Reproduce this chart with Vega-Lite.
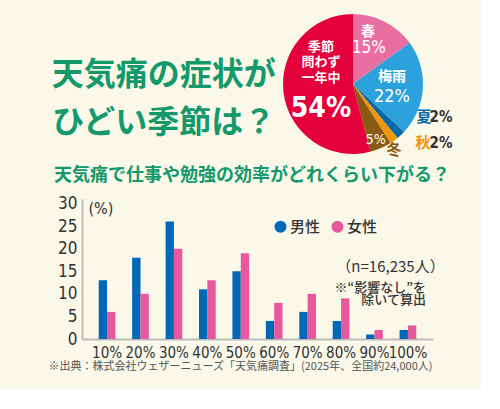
{
  "$schema": "https://vega.github.io/schema/vega-lite/v6.json",
  "background": "#FAF8E9",
  "padding": {"left": 47, "top": 13, "right": 28, "bottom": 17},
  "config": {"view": {"stroke": null}, "font": "Noto Sans CJK JP", "axisY": {"labelOverlap": false}, "axisX": {"labelOverlap": false}},
  "resolve": {"scale": {"color": "independent"}, "legend": {"color": "independent"}},
  "datasets": {
    "pie": [
      {"season": "春", "l1": "春", "l2": "", "l3": "", "pct": 15, "label": "15%", "order": 1},
      {"season": "梅雨", "l1": "梅雨", "l2": "", "l3": "", "pct": 22, "label": "22%", "order": 2},
      {"season": "夏", "l1": "夏", "l2": "", "l3": "", "pct": 2, "label": "2%", "order": 3},
      {"season": "秋", "l1": "秋", "l2": "", "l3": "", "pct": 2, "label": "2%", "order": 4},
      {"season": "冬", "l1": "冬", "l2": "", "l3": "", "pct": 5, "label": "5%", "order": 5},
      {"season": "季節問わず一年中", "l1": "季節", "l2": "問わず", "l3": "一年中", "pct": 54, "label": "54%", "order": 6}
    ],
    "bars": [
      {"rate": "10%", "gender": "男性", "value": 13}, {"rate": "10%", "gender": "女性", "value": 6},
      {"rate": "20%", "gender": "男性", "value": 18}, {"rate": "20%", "gender": "女性", "value": 10},
      {"rate": "30%", "gender": "男性", "value": 26}, {"rate": "30%", "gender": "女性", "value": 20},
      {"rate": "40%", "gender": "男性", "value": 11}, {"rate": "40%", "gender": "女性", "value": 13},
      {"rate": "50%", "gender": "男性", "value": 15}, {"rate": "50%", "gender": "女性", "value": 19},
      {"rate": "60%", "gender": "男性", "value": 4}, {"rate": "60%", "gender": "女性", "value": 8},
      {"rate": "70%", "gender": "男性", "value": 6}, {"rate": "70%", "gender": "女性", "value": 10},
      {"rate": "80%", "gender": "男性", "value": 4}, {"rate": "80%", "gender": "女性", "value": 9},
      {"rate": "90%", "gender": "男性", "value": 1}, {"rate": "90%", "gender": "女性", "value": 2},
      {"rate": "100%", "gender": "男性", "value": 2}, {"rate": "100%", "gender": "女性", "value": 3}
    ]
  },
  "spacing": 7,
  "vconcat": [
    {
      "spacing": 0,
      "hconcat": [
        {
          "width": 200,
          "height": 142,
          "data": {"values": [{"line": 1, "title": "天気痛の症状が"}, {"line": 2, "title": "ひどい季節は？"}]},
          "mark": {"type": "text", "font": "Noto Sans CJK JP", "fontWeight": "bold", "fontSize": 32, "color": "#13996B", "align": "center", "baseline": "middle", "dx": -18.2, "dy": 15},
          "encoding": {
            "y": {"field": "line", "type": "ordinal", "axis": null, "scale": {"type": "point", "padding": 1.9}},
            "text": {"field": "title"}
          }
        },
        {
          "width": 142,
          "height": 142,
          "data": {"name": "pie"},
          "encoding": {
            "theta": {"field": "pct", "type": "quantitative", "stack": true},
            "order": {"field": "order", "type": "quantitative"},
            "detail": {"field": "season", "type": "nominal"}
          },
          "layer": [
            {
              "mark": {"type": "arc", "outerRadius": 70},
              "encoding": {
                "color": {"field": "season", "type": "nominal", "legend": null,
                  "scale": {"domain": ["春", "梅雨", "夏", "秋", "冬", "季節問わず一年中"],
                            "range": ["#E96FA3", "#2CA2DC", "#0A68A8", "#F0960C", "#8B5A12", "#E4003B"]}}
              }
            },
            {
              "mark": {"type": "text", "radius": {"expr": "datum.season === '春' ? 46 : 0"}, "dx": -6, "dy": -11, "fontSize": 14, "fontWeight": "bold", "color": "white"},
              "encoding": {"text": {"condition": {"test": "datum.season === '春'", "field": "l1"}, "value": ""}}
            },
            {
              "mark": {"type": "text", "radius": {"expr": "datum.season === '春' ? 46 : 0"}, "dx": -5, "dy": 5, "fontSize": 17, "font": "'Liberation Sans Narrow', 'DejaVu Sans Condensed', Roboto", "color": "white"},
              "encoding": {"text": {"condition": {"test": "datum.season === '春'", "field": "label"}, "value": ""}}
            },
            {
              "mark": {"type": "text", "radius": {"expr": "datum.season === '梅雨' ? 40 : 0"}, "dx": -1, "dy": -10, "fontSize": 14, "fontWeight": "bold", "color": "white"},
              "encoding": {"text": {"condition": {"test": "datum.season === '梅雨'", "field": "l1"}, "value": ""}}
            },
            {
              "mark": {"type": "text", "radius": {"expr": "datum.season === '梅雨' ? 40 : 0"}, "dx": -1, "dy": 10, "fontSize": 18, "font": "'Liberation Sans Narrow', 'DejaVu Sans Condensed', Roboto", "color": "white"},
              "encoding": {"text": {"condition": {"test": "datum.season === '梅雨'", "field": "label"}, "value": ""}}
            },
            {
              "mark": {"type": "text", "radius": {"expr": "datum.season === '夏' ? 78 : 0"}, "dx": 17.6, "dy": -23.9, "fontSize": 15, "fontWeight": "bold", "color": "#0A68A8"},
              "encoding": {"text": {"condition": {"test": "datum.season === '夏'", "field": "l1"}, "value": ""}}
            },
            {
              "mark": {"type": "text", "radius": {"expr": "datum.season === '夏' ? 78 : 0"}, "dx": 34.6, "dy": -23.9, "fontSize": 15, "font": "'Liberation Sans Narrow', 'DejaVu Sans Condensed', Roboto", "fontWeight": "bold", "color": "#333333"},
              "encoding": {"text": {"condition": {"test": "datum.season === '夏'", "field": "label"}, "value": ""}}
            },
            {
              "mark": {"type": "text", "radius": {"expr": "datum.season === '秋' ? 78 : 0"}, "dx": 24.2, "dy": -4.1, "fontSize": 15, "fontWeight": "bold", "color": "#EE9008"},
              "encoding": {"text": {"condition": {"test": "datum.season === '秋'", "field": "l1"}, "value": ""}}
            },
            {
              "mark": {"type": "text", "radius": {"expr": "datum.season === '秋' ? 78 : 0"}, "dx": 42.2, "dy": -4.1, "fontSize": 15, "font": "'Liberation Sans Narrow', 'DejaVu Sans Condensed', Roboto", "fontWeight": "bold", "color": "#333333"},
              "encoding": {"text": {"condition": {"test": "datum.season === '秋'", "field": "label"}, "value": ""}}
            },
            {
              "mark": {"type": "text", "radius": {"expr": "datum.season === '冬' ? 80 : 0"}, "dx": 9.2, "dy": -7.4, "fontSize": 15, "fontWeight": "bold", "color": "#8B5A12"},
              "encoding": {"text": {"condition": {"test": "datum.season === '冬'", "field": "l1"}, "value": ""}}
            },
            {
              "mark": {"type": "text", "radius": {"expr": "datum.season === '冬' ? 60 : 0"}, "dx": -1, "dy": 1, "fontSize": 14, "font": "'Liberation Sans Narrow', 'DejaVu Sans Condensed', Roboto", "color": "white"},
              "encoding": {"text": {"condition": {"test": "datum.season === '冬'", "field": "label"}, "value": ""}}
            },
            {
              "mark": {"type": "text", "radius": {"expr": "datum.season === '季節問わず一年中' ? 35 : 0"}, "dx": 2.7, "dy": -41.4, "fontSize": 13, "fontWeight": "bold", "color": "white"},
              "encoding": {"text": {"condition": {"test": "datum.season === '季節問わず一年中'", "field": "l1"}, "value": ""}}
            },
            {
              "mark": {"type": "text", "radius": {"expr": "datum.season === '季節問わず一年中' ? 35 : 0"}, "dx": 2.7, "dy": -25.9, "fontSize": 13, "fontWeight": "bold", "color": "white"},
              "encoding": {"text": {"condition": {"test": "datum.season === '季節問わず一年中'", "field": "l2"}, "value": ""}}
            },
            {
              "mark": {"type": "text", "radius": {"expr": "datum.season === '季節問わず一年中' ? 35 : 0"}, "dx": 2.7, "dy": -10.4, "fontSize": 13, "fontWeight": "bold", "color": "white"},
              "encoding": {"text": {"condition": {"test": "datum.season === '季節問わず一年中'", "field": "l3"}, "value": ""}}
            },
            {
              "mark": {"type": "text", "radius": {"expr": "datum.season === '季節問わず一年中' ? 35 : 0"}, "dx": 2.7, "dy": 21, "fontSize": 28, "font": "'Liberation Sans Narrow', 'DejaVu Sans Condensed', Roboto", "fontWeight": "bold", "color": "white"},
              "encoding": {"text": {"condition": {"test": "datum.season === '季節問わず一年中'", "field": "label"}, "value": ""}}
            }
          ]
        }
      ]
    },
    {
      "width": 351,
      "height": 140,
      "title": {"text": "天気痛で仕事や勉強の効率がどれくらい下がる？", "anchor": "start", "frame": "group", "dx": -28, "fontSize": 18, "fontWeight": "bold", "color": "#13996B", "font": "Noto Sans CJK JP", "offset": 10},
      "layer": [
        {
          "data": {"name": "bars"},
          "mark": {"type": "bar"},
          "encoding": {
            "x": {"field": "rate", "type": "nominal", "sort": null,
              "scale": {"paddingInner": 0.5, "paddingOuter": 0.5},
              "axis": {"labelAngle": 0, "ticks": false, "labelPadding": 6, "labelFontSize": 15, "labelFont": "'Liberation Sans Narrow', 'DejaVu Sans Condensed', Roboto", "labelColor": "#333333", "labelOverlap": false,
                       "domainColor": "#BBBBBB", "domainWidth": 2,
                       "title": "※出典：株式会社ウェザーニューズ「天気痛調査」(2025年、全国約24,000人)",
                       "titleFontSize": 11, "titleFontWeight": "normal", "titleColor": "#555555", "titleFont": "Noto Sans CJK JP",
                       "titleAlign": "center", "titleBaseline": "middle", "titleX": 158, "titleY": 27.5}},
            "xOffset": {"field": "gender", "type": "nominal", "sort": ["男性", "女性"]},
            "y": {"field": "value", "type": "quantitative", "scale": {"domain": [0, 31], "nice": false},
              "axis": {"values": [0, 5, 10, 15, 20, 25, 30], "ticks": false, "grid": false, "labelOverlap": false, "labelPadding": 5, "labelFontSize": 17, "labelFont": "'Liberation Sans Narrow', 'DejaVu Sans Condensed', Roboto", "labelColor": "#333333",
                       "domainColor": "#BBBBBB", "domainWidth": 2,
                       "title": "(%)", "titleAngle": 0, "titleX": 6, "titleY": 9, "titleAlign": "left", "titleBaseline": "middle",
                       "titleFontSize": 16, "titleFontWeight": "normal", "titleFont": "'Liberation Sans Narrow', 'DejaVu Sans Condensed', Roboto", "titleColor": "#333333"}},
            "color": {"field": "gender", "type": "nominal",
              "scale": {"domain": ["男性", "女性"], "range": ["#0068B7", "#E8589C"]},
              "legend": {"orient": "none", "legendX": 191, "legendY": 20, "direction": "horizontal", "title": null,
                         "symbolType": "circle", "symbolSize": 144, "symbolStrokeWidth": 0, "symbolOpacity": 1,
                         "labelFontSize": 15, "labelFont": "Noto Sans CJK JP", "labelFontWeight": 500, "labelColor": "#333333", "labelOffset": 2, "columnPadding": 9, "padding": 0}}
          }
        },
        {
          "data": {"values": [{"note": "（n=16,235人）"}]},
          "mark": {"type": "text", "fontSize": 15, "color": "#333333", "dx": 16, "align": "center", "baseline": "middle"},
          "encoding": {
            "x": {"datum": "90%", "axis": {"labelAngle": 0, "ticks": false, "labelPadding": 6, "labelFontSize": 15, "labelFont": "'Liberation Sans Narrow', 'DejaVu Sans Condensed', Roboto", "labelColor": "#333333", "labelOverlap": false,
                       "domainColor": "#BBBBBB", "domainWidth": 2,
                       "title": "※出典：株式会社ウェザーニューズ「天気痛調査」(2025年、全国約24,000人)",
                       "titleFontSize": 11, "titleFontWeight": "normal", "titleColor": "#555555", "titleFont": "Noto Sans CJK JP",
                       "titleAlign": "center", "titleBaseline": "middle", "titleX": 158, "titleY": 27.5}},
            "y": {"datum": 15.9, "axis": {"values": [0, 5, 10, 15, 20, 25, 30], "ticks": false, "grid": false, "labelOverlap": false, "labelPadding": 5, "labelFontSize": 17, "labelFont": "'Liberation Sans Narrow', 'DejaVu Sans Condensed', Roboto", "labelColor": "#333333",
                       "domainColor": "#BBBBBB", "domainWidth": 2,
                       "title": "(%)", "titleAngle": 0, "titleX": 6, "titleY": 9, "titleAlign": "left", "titleBaseline": "middle",
                       "titleFontSize": 16, "titleFontWeight": "normal", "titleFont": "'Liberation Sans Narrow', 'DejaVu Sans Condensed', Roboto", "titleColor": "#333333"}},
            "text": {"field": "note"}
          }
        },
        {
          "data": {"values": [{"note": "※“影響なし”を"}]},
          "mark": {"type": "text", "fontSize": 13, "fontWeight": 500, "color": "#333333", "dx": 18, "align": "right", "baseline": "middle"},
          "encoding": {
            "x": {"datum": "100%", "axis": {"labelAngle": 0, "ticks": false, "labelPadding": 6, "labelFontSize": 15, "labelFont": "'Liberation Sans Narrow', 'DejaVu Sans Condensed', Roboto", "labelColor": "#333333", "labelOverlap": false,
                       "domainColor": "#BBBBBB", "domainWidth": 2,
                       "title": "※出典：株式会社ウェザーニューズ「天気痛調査」(2025年、全国約24,000人)",
                       "titleFontSize": 11, "titleFontWeight": "normal", "titleColor": "#555555", "titleFont": "Noto Sans CJK JP",
                       "titleAlign": "center", "titleBaseline": "middle", "titleX": 158, "titleY": 27.5}},
            "y": {"datum": 11.3, "axis": {"values": [0, 5, 10, 15, 20, 25, 30], "ticks": false, "grid": false, "labelOverlap": false, "labelPadding": 5, "labelFontSize": 17, "labelFont": "'Liberation Sans Narrow', 'DejaVu Sans Condensed', Roboto", "labelColor": "#333333",
                       "domainColor": "#BBBBBB", "domainWidth": 2,
                       "title": "(%)", "titleAngle": 0, "titleX": 6, "titleY": 9, "titleAlign": "left", "titleBaseline": "middle",
                       "titleFontSize": 16, "titleFontWeight": "normal", "titleFont": "'Liberation Sans Narrow', 'DejaVu Sans Condensed', Roboto", "titleColor": "#333333"}},
            "text": {"field": "note"}
          }
        },
        {
          "data": {"values": [{"note": "除いて算出"}]},
          "mark": {"type": "text", "fontSize": 13, "fontWeight": 500, "color": "#333333", "dx": 18, "align": "right", "baseline": "middle"},
          "encoding": {
            "x": {"datum": "100%", "axis": {"labelAngle": 0, "ticks": false, "labelPadding": 6, "labelFontSize": 15, "labelFont": "'Liberation Sans Narrow', 'DejaVu Sans Condensed', Roboto", "labelColor": "#333333", "labelOverlap": false,
                       "domainColor": "#BBBBBB", "domainWidth": 2,
                       "title": "※出典：株式会社ウェザーニューズ「天気痛調査」(2025年、全国約24,000人)",
                       "titleFontSize": 11, "titleFontWeight": "normal", "titleColor": "#555555", "titleFont": "Noto Sans CJK JP",
                       "titleAlign": "center", "titleBaseline": "middle", "titleX": 158, "titleY": 27.5}},
            "y": {"datum": 8.6, "axis": {"values": [0, 5, 10, 15, 20, 25, 30], "ticks": false, "grid": false, "labelOverlap": false, "labelPadding": 5, "labelFontSize": 17, "labelFont": "'Liberation Sans Narrow', 'DejaVu Sans Condensed', Roboto", "labelColor": "#333333",
                       "domainColor": "#BBBBBB", "domainWidth": 2,
                       "title": "(%)", "titleAngle": 0, "titleX": 6, "titleY": 9, "titleAlign": "left", "titleBaseline": "middle",
                       "titleFontSize": 16, "titleFontWeight": "normal", "titleFont": "'Liberation Sans Narrow', 'DejaVu Sans Condensed', Roboto", "titleColor": "#333333"}},
            "text": {"field": "note"}
          }
        }
      ]
    }
  ]
}
